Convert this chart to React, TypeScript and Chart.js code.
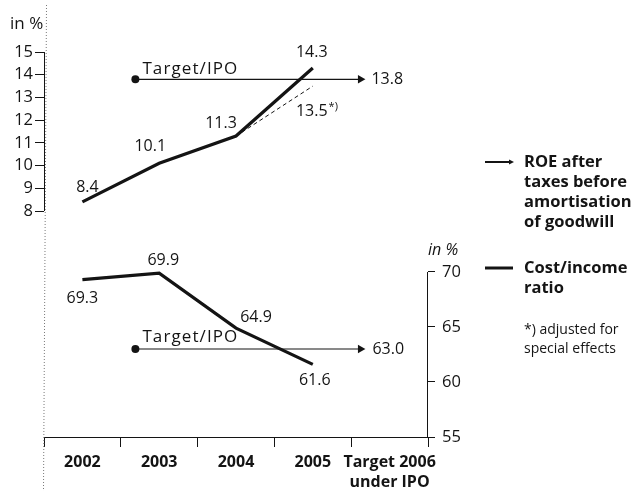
import React, { useEffect, useRef } from 'react';
import { Chart, registerables } from 'chart.js';

Chart.register(...registerables);

// ---- data ----
const categories: (string | string[])[] = ['2002', '2003', '2004', '2005', ['Target 2006', 'under IPO']];
const roeValues = [8.4, 10.1, 11.3, 14.3, null];
const roeAdjusted = [null, null, 11.3, 13.5, null];
const costIncomeValues = [69.3, 69.9, 64.9, 61.6, null];
const roeTarget = 13.8;
const costIncomeTarget = 63.0;
const targetSpan = [0.69, 3.62]; // start / end position of the target arrows on the category index scale
const roeTicks = [8, 9, 10, 11, 12, 13, 14, 15];
const costIncomeTicks = [55, 60, 65, 70];
const legendRoe = ['ROE after', 'taxes before', 'amortisation', 'of goodwill'];
const legendCost = ['Cost/income', 'ratio'];
const footnote = ['*) adjusted for', 'special effects'];
const targetLabel = 'Target/IPO';
const unitLabel = 'in %';

// label offsets (dx, dy) relative to each point
const roeLabelOffsets = [[5, -14], [-9, -17], [-15, -13], [-1, -15]];
const costLabelOffsets = [[0, 19], [4, -13], [20, -11], [2, 16]];

const FONT = '"Open Sans", "DejaVu Sans", sans-serif';
const INK = '#141414';

const overlayPlugin = {
  id: 'overlay',
  beforeDatasetsDraw(chart: any) {
    const { ctx, chartArea, scales } = chart;
    const yL = scales.yL;
    const yR = scales.yR;
    ctx.save();
    // dotted vertical guide
    ctx.strokeStyle = '#777';
    ctx.lineWidth = 1;
    ctx.setLineDash([1, 2]);
    ctx.beginPath();
    ctx.moveTo(chartArea.left + 2.5, 5);
    ctx.lineTo(chartArea.left - 0.5, chart.height);
    ctx.stroke();
    ctx.setLineDash([]);
    // partial axis lines
    ctx.strokeStyle = INK;
    ctx.beginPath();
    const xl = Math.round(chartArea.left) + 0.5;
    ctx.moveTo(xl, yL.getPixelForValue(roeTicks[roeTicks.length - 1]));
    ctx.lineTo(xl, yL.getPixelForValue(roeTicks[0]));
    const xr = Math.round(chartArea.right) - 0.5;
    ctx.moveTo(xr, yR.getPixelForValue(costIncomeTicks[costIncomeTicks.length - 1]));
    ctx.lineTo(xr, yR.getPixelForValue(costIncomeTicks[0]));
    ctx.stroke();
    ctx.restore();
  },
  afterDatasetsDraw(chart: any) {
    const { ctx, chartArea, scales } = chart;
    const x = scales.x;
    const x2 = scales.x2;
    const yL = scales.yL;
    const yR = scales.yR;
    ctx.save();
    ctx.fillStyle = INK;
    ctx.textBaseline = 'middle';
    ctx.textAlign = 'center';
    ctx.font = `16px ${FONT}`;
    roeValues.forEach((v, i) => {
      if (v == null) return;
      const [dx, dy] = roeLabelOffsets[i];
      ctx.fillText(v.toFixed(1), x.getPixelForValue(i) + dx, yL.getPixelForValue(v) + dy);
    });
    costIncomeValues.forEach((v, i) => {
      if (v == null) return;
      const [dx, dy] = costLabelOffsets[i];
      ctx.fillText(v.toFixed(1), x.getPixelForValue(i) + dx, yR.getPixelForValue(v) + dy);
    });
    // adjusted label
    const adj = roeAdjusted[3] as number;
    const ax = x.getPixelForValue(3) - 1;
    const ay = yL.getPixelForValue(adj) + 25;
    ctx.fillText(adj.toFixed(1), ax, ay);
    const w = ctx.measureText(adj.toFixed(1)).width;
    ctx.textAlign = 'left';
    ctx.font = `11px ${FONT}`;
    ctx.fillText('*)', ax + w / 2 + 1, ay - 4);

    // target labels
    ctx.font = `17px ${FONT}`;
    ctx.textAlign = 'left';
    const sx = x2.getPixelForValue(targetSpan[0]);
    const ex = x2.getPixelForValue(targetSpan[1]);
    (ctx as any).letterSpacing = '1.1px';
    ctx.fillText(targetLabel, sx + 7, yL.getPixelForValue(roeTarget) - 10);
    ctx.fillText(targetLabel, sx + 7, yR.getPixelForValue(costIncomeTarget) - 12);
    (ctx as any).letterSpacing = '0px';
    ctx.font = `16px ${FONT}`;
    ctx.fillText(roeTarget.toFixed(1), ex + 11, yL.getPixelForValue(roeTarget));
    ctx.fillText(costIncomeTarget.toFixed(1), ex + 12, yR.getPixelForValue(costIncomeTarget));

    // unit labels
    ctx.font = `17px ${FONT}`;
    ctx.fillText(unitLabel, 10, 24);
    ctx.font = `italic 16px ${FONT}`;
    ctx.fillText(unitLabel, chartArea.right, yR.getPixelForValue(costIncomeTicks[costIncomeTicks.length - 1]) - 22);

    // legend
    const lx = chartArea.right + 57;
    const tx = chartArea.right + 96;
    ctx.strokeStyle = INK;
    ctx.lineWidth = 2;
    ctx.beginPath();
    ctx.moveTo(lx, 162);
    ctx.lineTo(lx + 26, 162);
    ctx.stroke();
    ctx.beginPath();
    ctx.moveTo(lx + 29, 162);
    ctx.lineTo(lx + 24, 159.5);
    ctx.lineTo(lx + 24, 164.5);
    ctx.closePath();
    ctx.fill();
    ctx.lineWidth = 3;
    ctx.beginPath();
    ctx.moveTo(lx, 268);
    ctx.lineTo(lx + 28, 268);
    ctx.stroke();
    ctx.font = `bold 16.5px ${FONT}`;
    legendRoe.forEach((t, i) => ctx.fillText(t, tx, 162 + i * 20));
    legendCost.forEach((t, i) => ctx.fillText(t, tx, 268 + i * 20));
    ctx.font = `14px ${FONT}`;
    footnote.forEach((t, i) => ctx.fillText(t, tx, 330 + i * 19));
    ctx.restore();
  },
};

export default function App() {
  const ref = useRef<HTMLCanvasElement | null>(null);
  useEffect(() => {
    if (!ref.current) return;
    const lineBase = { pointRadius: 0, tension: 0, borderColor: INK, spanGaps: false };
    const chart = new Chart(ref.current, {
      type: 'line',
      data: {
        labels: categories as any,
        datasets: [
          { ...lineBase, label: 'ROE', data: roeValues as any, xAxisID: 'x', yAxisID: 'yL', borderWidth: 3.2 },
          { ...lineBase, label: 'ROE adjusted', data: roeAdjusted as any, xAxisID: 'x', yAxisID: 'yL', borderWidth: 1, borderDash: [4, 3] },
          { ...lineBase, label: 'Cost/income', data: costIncomeValues as any, xAxisID: 'x', yAxisID: 'yR', borderWidth: 3.2 },
          {
            ...lineBase, label: 'ROE target', xAxisID: 'x2', yAxisID: 'yL', borderWidth: 1.2,
            data: targetSpan.map((p) => ({ x: p, y: roeTarget })) as any,
            pointRadius: [4, 5], pointStyle: ['circle', 'triangle'], pointRotation: [0, 90],
            pointBackgroundColor: INK, pointBorderWidth: 0,
          } as any,
          {
            ...lineBase, label: 'Cost/income target', xAxisID: 'x2', yAxisID: 'yR', borderWidth: 1.2,
            data: targetSpan.map((p) => ({ x: p, y: costIncomeTarget })) as any,
            pointRadius: [4, 5], pointStyle: ['circle', 'triangle'], pointRotation: [0, 90],
            pointBackgroundColor: INK, pointBorderWidth: 0,
          } as any,
        ],
      },
      options: {
        animation: false,
        responsive: false,
        devicePixelRatio: 1,
        layout: { padding: { top: 40, left: 0, right: 0, bottom: 0 } },
        plugins: { legend: { display: false }, tooltip: { enabled: false } },
        scales: {
          x: {
            type: 'category',
            position: 'bottom',
            offset: true,
            grid: { offset: true, drawOnChartArea: false, drawTicks: true, tickLength: 10, color: INK },
            border: { display: true, color: INK, width: 1 },
            ticks: { color: INK, font: { family: FONT, size: 16, weight: 'bold', lineHeight: '20px' } as any, padding: 5, maxRotation: 0, autoSkip: false },
            afterFit: (s: any) => { s.height = 54; },
          },
          x2: { type: 'linear', display: false, min: -0.5, max: 4.5 },
          yL: {
            type: 'linear',
            position: 'left',
            min: -1.95,
            max: 15.53,
            afterBuildTicks: (s: any) => { s.ticks = roeTicks.map((v) => ({ value: v })); },
            grid: { drawOnChartArea: false, tickLength: 9, color: INK },
            border: { display: false },
            ticks: { color: INK, font: { family: FONT, size: 16.5 }, padding: 2 },
            afterFit: (s: any) => { s.width = 44; },
          },
          yR: {
            type: 'linear',
            position: 'right',
            min: 55,
            max: 91.09,
            afterBuildTicks: (s: any) => { s.ticks = costIncomeTicks.map((v) => ({ value: v })); },
            grid: { drawOnChartArea: false, tickLength: 7, color: INK },
            border: { display: false },
            ticks: { color: INK, font: { family: FONT, size: 16.5 }, padding: 7 },
            afterFit: (s: any) => { s.width = 211; },
          },
        },
      } as any,
      plugins: [overlayPlugin],
    });
    return () => chart.destroy();
  }, []);
  return (
    <div style={{ position: 'absolute', left: 0, top: 0, width: 639, height: 491, background: '#fff' }}>
      <canvas ref={ref} width={639} height={491} style={{ width: 639, height: 491 }} />
    </div>
  );
}
